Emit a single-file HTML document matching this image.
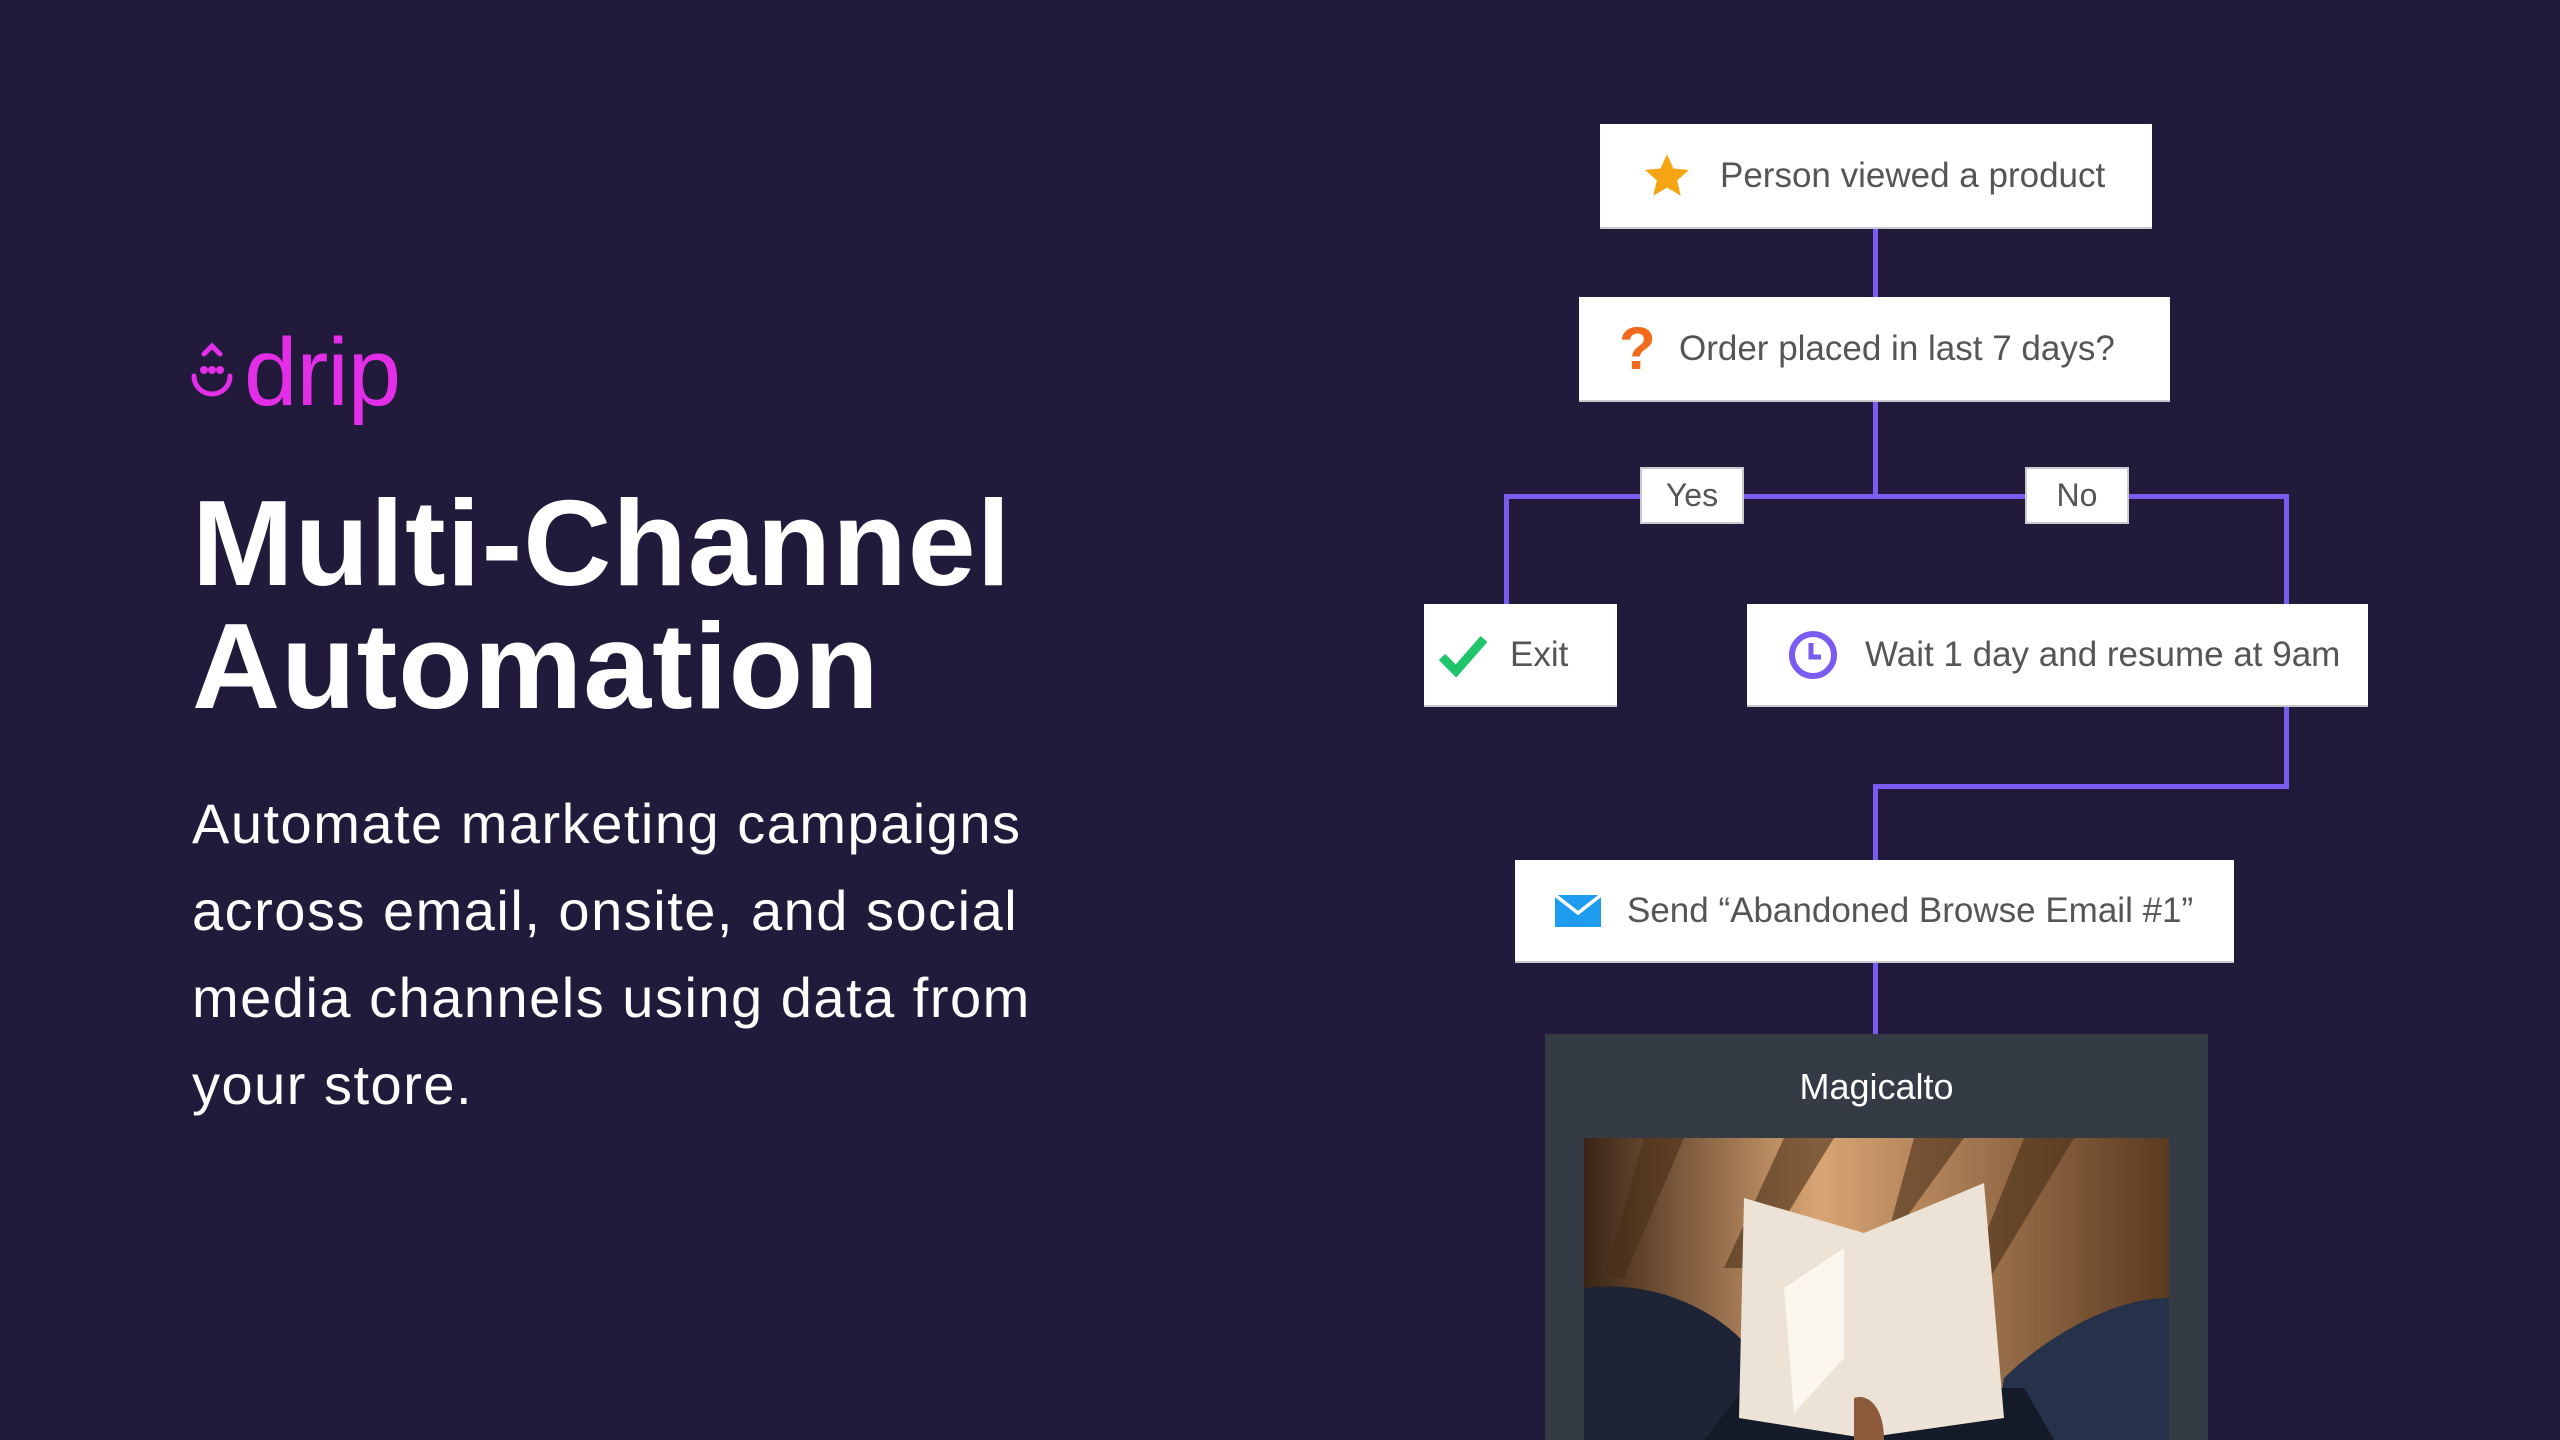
<!DOCTYPE html>
<html><head><meta charset="utf-8"><style>
html,body{margin:0;padding:0}
body{width:2560px;height:1440px;background:#211a3a;position:relative;overflow:hidden;font-family:"Liberation Sans",sans-serif}
.abs{position:absolute}
.box{position:absolute;background:#fff;color:#555;font-size:35px;display:flex;align-items:center;box-sizing:border-box;border-bottom:2px solid #c9c9d0}
.line{position:absolute;background:#7a5cf0}
.lbl{position:absolute;background:#fff;border:2px solid #c9c9d0;box-sizing:border-box;color:#555;font-size:32px;display:flex;align-items:center;justify-content:center}
</style></head><body>
<!-- logo -->
<svg class="abs" style="left:190px;top:340px" width="70" height="70" viewBox="0 0 70 70">
<path d="M14 14 L22 6 L30 14" stroke="#e22ee6" stroke-width="5" fill="none" stroke-linecap="round"/>
<circle cx="14" cy="30" r="4" fill="#e22ee6"/><circle cx="22" cy="30" r="4" fill="#e22ee6"/><circle cx="30" cy="30" r="4" fill="#e22ee6"/>
<path d="M4 36 A18 18 0 0 0 40 36" stroke="#e22ee6" stroke-width="5" fill="none" stroke-linecap="round"/>
</svg>
<div class="abs" style="left:244px;top:318px;font-size:96px;color:#e22ee6;letter-spacing:-1px">drip</div>
<div class="abs" style="left:192px;top:482px;font-size:122px;line-height:123px;color:#fff;font-weight:bold;letter-spacing:1px">Multi-Channel<br>Automation</div>
<div class="abs" style="left:192px;top:780px;font-size:56px;line-height:87px;color:#fff;width:1100px;letter-spacing:1.5px">Automate marketing campaigns<br>across email, onsite, and social<br>media channels using data from<br>your store.</div>

<!-- lines -->
<div class="line" style="left:1873px;top:229px;width:5px;height:68px"></div>
<div class="line" style="left:1873px;top:402px;width:5px;height:96px"></div>
<div class="line" style="left:1504px;top:494px;width:785px;height:5px"></div>
<div class="line" style="left:1504px;top:494px;width:5px;height:112px"></div>
<div class="line" style="left:2284px;top:494px;width:5px;height:112px"></div>
<div class="line" style="left:2284px;top:705px;width:5px;height:84px"></div>
<div class="line" style="left:1873px;top:784px;width:416px;height:5px"></div>
<div class="line" style="left:1873px;top:784px;width:5px;height:78px"></div>
<div class="line" style="left:1873px;top:962px;width:5px;height:74px"></div>

<div class="box" style="left:1600px;top:124px;width:552px;height:105px;padding-left:42px">
<svg width="50" height="50" viewBox="0 0 24 24"><path d="M12 1.5l3.1 6.9 7.4.7-5.6 5 1.7 7.4L12 17.6 5.4 21.5l1.7-7.4-5.6-5 7.4-.7z" fill="#f5a512"/></svg>
<span style="margin-left:28px">Person viewed a product</span></div>

<div class="box" style="left:1579px;top:297px;width:591px;height:105px;padding-left:40px">
<span style="color:#f26b1d;font-size:60px;font-weight:bold;width:36px">?</span>
<span style="margin-left:24px">Order placed in last 7 days?</span></div>

<div class="lbl" style="left:1640px;top:467px;width:104px;height:57px">Yes</div>
<div class="lbl" style="left:2025px;top:467px;width:104px;height:57px">No</div>

<div class="box" style="left:1424px;top:604px;width:193px;height:103px;padding-left:14px">
<svg width="50" height="44" viewBox="0 0 50 44"><path d="M4 24 L18 38 L46 6" stroke="#1fc46b" stroke-width="9" fill="none"/></svg>
<span style="margin-left:22px">Exit</span></div>

<div class="box" style="left:1747px;top:604px;width:621px;height:103px;padding-left:40px">
<svg width="52" height="52" viewBox="0 0 52 52"><circle cx="26" cy="26" r="21" stroke="#7a5cf0" stroke-width="6" fill="none"/><path d="M24 14 V28 H34" stroke="#7a5cf0" stroke-width="5" fill="none"/></svg>
<span style="margin-left:26px">Wait 1 day and resume at 9am</span></div>

<div class="box" style="left:1515px;top:860px;width:719px;height:103px;padding-left:40px">
<svg width="46" height="32" viewBox="0 0 46 32"><rect width="46" height="32" fill="#1e9df0"/><path d="M0 0 L23 18 L46 0" stroke="#fff" stroke-width="3.5" fill="none"/></svg>
<span style="margin-left:26px">Send “Abandoned Browse Email #1”</span></div>

<div class="abs" style="left:1545px;top:1034px;width:663px;height:406px;background:#343b44">
<div style="position:absolute;top:32px;width:100%;text-align:center;color:#fff;font-size:36px">Magicalto</div>
<svg style="position:absolute;left:39px;top:104px" width="585" height="302" viewBox="0 0 585 302">
<defs><linearGradient id="w" x1="0" y1="0" x2="1" y2="0"><stop offset="0" stop-color="#3a2415"/><stop offset=".4" stop-color="#d9a574"/><stop offset="1" stop-color="#5a3a20"/></linearGradient></defs>
<rect width="585" height="302" fill="url(#w)"/>
<path d="M60 0 L100 0 L40 140 L20 140Z M200 0 L250 0 L170 130 L140 130Z M330 0 L380 0 L300 110Z M440 0 L490 0 L400 150 L380 150Z" fill="#4a2e18" opacity=".6"/>
<path d="M0 150 C80 140 150 180 180 230 L180 302 L0 302Z" fill="#1c2436"/>
<path d="M585 160 C520 160 450 210 420 240 L410 302 L585 302Z" fill="#26324a"/>
<path d="M120 302 L160 250 L440 250 L470 302Z" fill="#141a28"/>
<path d="M160 60 L280 95 L400 45 L420 280 L280 300 L155 280Z" fill="#ece3d6"/>
<path d="M200 150 L260 110 L260 220 L210 275Z" fill="#fbf6ee"/>
<path d="M270 260 C285 255 300 270 300 302 L270 302Z" fill="#8a5a3a"/>
</svg>
</div>
</body></html>
